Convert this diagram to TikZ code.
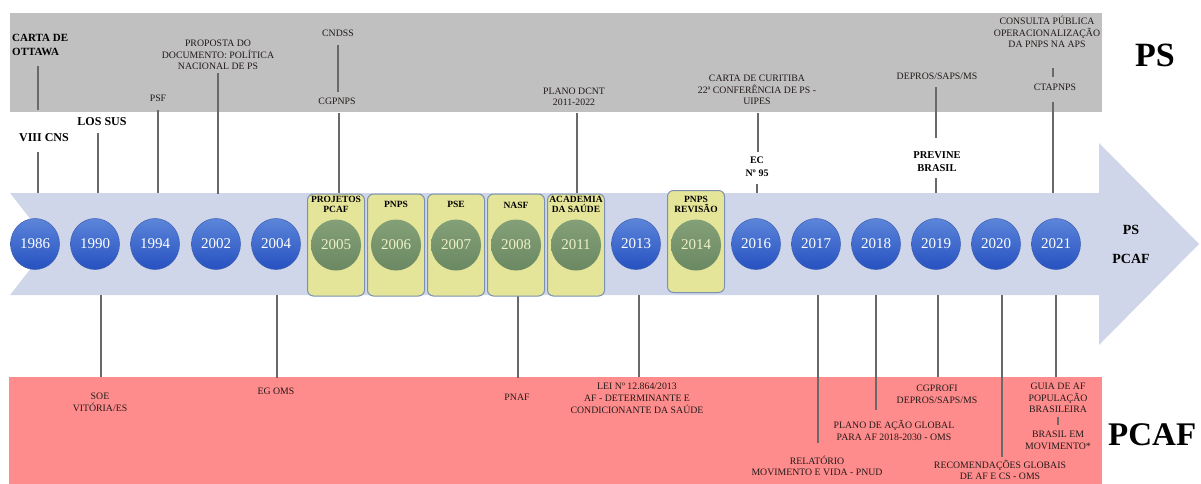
\documentclass[tikz,border=0pt]{standalone}
\usepackage{fontspec}
\setmainfont{Liberation Serif}
\usetikzlibrary{shapes.geometric}
\definecolor{bandgrey}{RGB}{192,192,192}
\definecolor{bandpink}{RGB}{255,140,140}
\definecolor{arrowblue}{RGB}{208,214,234}
\definecolor{boxfill}{RGB}{229,229,153}
\definecolor{boxedge}{RGB}{122,146,176}
\definecolor{blueT}{RGB}{92,132,218}
\definecolor{blueB}{RGB}{38,82,192}
\definecolor{blueE}{RGB}{60,95,175}
\definecolor{greenT}{RGB}{132,160,120}
\definecolor{greenB}{RGB}{106,136,98}
\definecolor{cream}{RGB}{236,240,200}
\definecolor{linegrey}{RGB}{105,105,105}
\definecolor{txt}{RGB}{35,25,25}
\tikzset{
  conn/.style={draw=linegrey, line width=1.3pt},
  smalltxt/.style={font=\fontsize{9.8}{11}\selectfont, align=center, inner sep=0pt, text=txt},
  boldtxt/.style={font=\fontsize{11}{13}\selectfont\bfseries, align=center, inner sep=0pt, text=black},
  boxlbl/.style={font=\fontsize{9.5}{10}\selectfont\bfseries, align=center, inner sep=0pt, text=black},
  bluedot/.style={ellipse, minimum width=49pt, minimum height=51pt, inner sep=0pt,
    top color=blueT, bottom color=blueB, draw=blueE, line width=0.5pt,
    text=white, font=\fontsize{15}{15}\selectfont},
  greendot/.style={ellipse, minimum width=50pt, minimum height=51pt, inner sep=0pt,
    top color=greenT, bottom color=greenB, draw=none,
    text=cream, font=\fontsize{15}{15}\selectfont},
  yrbox/.style={rounded corners=6pt, draw=boxedge, fill=boxfill, line width=1pt,
    minimum width=57pt, minimum height=102pt, inner sep=0pt},
  biglbl/.style={font=\fontsize{34}{34}\selectfont\bfseries, inner sep=0pt, text=black},
}
\begin{document}
\begin{tikzpicture}[x=1pt,y=-1pt]
\useasboundingbox (0,0) rectangle (1201,483);
% bands
\fill[bandgrey] (10,13) rectangle (1102,112);
\fill[bandpink] (9,377) rectangle (1102,490);
% arrow
\fill[arrowblue] (10,193) -- (1099,193) -- (1099,143) -- (1199,244) -- (1099,345)
  -- (1099,295) -- (10,295) -- (50,244) -- cycle;
% connectors
\foreach \n/\x/\ya/\yb in {
  l1/38/66/110, l2/38/152/193, l3/98/133/193, l4/158/110/193, l5/218/73/194,
  l6/338/45/92, l7/339/113/193, l8/577/113/193, l9/758/113/152, l10/757/184/193,
  l11/936/87/138, l12/936/178/193, l13/1053/68/77, l14/1053/102/193,
  b1/101/295/377, b2/277/295/378, b3/518/295/378, b4/639/295/377, b5/818/295/443,
  b6/876/295/410, b7/938/295/377, b8/1002/295/457, b9/1056/295/377, b10/1058/417/425}
{
  \coordinate (\n-a) at (\x,\ya);
  \coordinate (\n-b) at (\x,\yb);
  \draw[conn] (\n-a) -- (\n-b);
}
% boxes for highlighted years
\foreach \yr/\x in {2005/336, 2006/396, 2007/456, 2008/516, 2011/576}
  \node[yrbox] (box\yr) at (\x,245) {};
\node[yrbox] (box2014) at (696,241.5) {};
% blue year circles
\foreach \yr/\x in {1986/35, 1990/95, 1994/155, 2002/216, 2004/276, 2013/636,
  2016/756, 2017/816, 2018/876, 2019/936, 2020/996, 2021/1056}
  \node[bluedot] (y\yr) at (\x,244) {\yr};
% green year circles
\foreach \yr/\x in {2005/336, 2006/396, 2007/456, 2008/516, 2011/576, 2014/696}
  \node[greendot] (y\yr) at (\x,245) {\yr};
% box labels
\node[boxlbl] (lproj) at (336,204.5) {PROJETOS\\PCAF};
\node[boxlbl] (lpnps) at (396,204) {PNPS};
\node[boxlbl] (lpse) at (456,204) {PSE};
\node[boxlbl] (lnasf) at (516,205) {NASF};
\node[boxlbl] (lacad) at (576,204.5) {ACADEMIA\\DA SAÚDE};
\node[boxlbl] (lrev) at (696,204) {PNPS\\REVISÃO};
% top annotations
\node[boldtxt, align=left, anchor=north west, font=\fontsize{11}{14}\selectfont\bfseries] (ottawa) at (12,34) {CARTA DE\\OTTAWA};
\node[boldtxt, font=\fontsize{12}{14}\selectfont\bfseries] (cns) at (44,138) {VIII CNS};
\node[boldtxt, font=\fontsize{12}{14}\selectfont\bfseries] (sus) at (102,122) {LOS SUS};
\node[smalltxt] (psf) at (158,98) {PSF};
\node[smalltxt, font=\fontsize{9.8}{11.7}\selectfont] (proposta) at (218,55) {PROPOSTA DO\\DOCUMENTO: POLÍTICA\\NACIONAL DE PS};
\node[smalltxt] (cndss) at (338,33) {CNDSS};
\node[smalltxt] (cgpnps) at (337,101) {CGPNPS};
\node[smalltxt, font=\fontsize{9.8}{10.5}\selectfont] (dcnt) at (574,97) {PLANO DCNT\\2011-2022};
\node[smalltxt, font=\fontsize{9.8}{11.5}\selectfont] (curitiba) at (757,90) {CARTA DE CURITIBA\\22ª CONFERÊNCIA DE PS -\\UIPES};
\node[boldtxt, font=\fontsize{10}{13}\selectfont\bfseries] (ec) at (757,167) {EC\\Nº 95};
\node[smalltxt] (depros) at (937,76) {DEPROS/SAPS/MS};
\node[boldtxt, font=\fontsize{10.5}{13}\selectfont\bfseries] (previne) at (937,162) {PREVINE\\BRASIL};
\node[smalltxt, font=\fontsize{9.8}{11.5}\selectfont] (consulta) at (1047,32) {CONSULTA PÚBLICA\\OPERACIONALIZAÇÃO\\DA PNPS NA APS};
\node[smalltxt] (ctapnps) at (1055,87) {CTAPNPS};
% bottom annotations
\node[smalltxt, font=\fontsize{9.8}{12}\selectfont] (soe) at (100,402) {SOE\\VITÓRIA/ES};
\node[smalltxt] (egoms) at (276,391) {EG OMS};
\node[smalltxt] (pnaf) at (517,397) {PNAF};
\node[smalltxt, font=\fontsize{9.8}{12}\selectfont] (lei) at (637,398) {LEI Nº 12.864/2013\\AF - DETERMINANTE E\\CONDICIONANTE DA SAÚDE};
\node[smalltxt, font=\fontsize{9.8}{11}\selectfont] (relat) at (817,466) {RELATÓRIO\\MOVIMENTO E VIDA - PNUD};
\node[smalltxt, font=\fontsize{9.8}{12}\selectfont] (pglobal) at (894,430) {PLANO DE AÇÃO GLOBAL\\PARA AF 2018-2030 - OMS};
\node[smalltxt, font=\fontsize{9.8}{12}\selectfont] (cgprofi) at (937,394) {CGPROFI\\DEPROS/SAPS/MS};
\node[smalltxt, font=\fontsize{9.8}{11}\selectfont] (recom) at (1000,470) {RECOMENDAÇÕES GLOBAIS\\DE AF E CS - OMS};
\node[smalltxt, font=\fontsize{9.8}{11.5}\selectfont] (guia) at (1058,398) {GUIA DE AF\\POPULAÇÃO\\BRASILEIRA};
\node[smalltxt, font=\fontsize{9.8}{12}\selectfont] (bmov) at (1058,440) {BRASIL EM\\MOVIMENTO*};
% arrow head labels
\node[boldtxt, font=\fontsize{14}{29}\selectfont\bfseries] (headlbl) at (1131,244) {PS\\PCAF};
% big side labels
\node[biglbl] (bigps) at (1155,55) {PS};
\node[biglbl, anchor=west, font=\fontsize{33}{33}\selectfont\bfseries] (bigpcaf) at (1108,435) {PCAF};
\end{tikzpicture}
\end{document}
